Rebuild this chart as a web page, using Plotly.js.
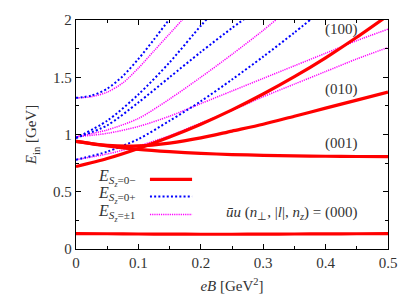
<!DOCTYPE html>
<html>
<head>
<meta charset="utf-8">
<script src="https://cdn.plot.ly/plotly-3.0.1.min.js"></script>
<style>html,body{margin:0;padding:0;background:#fff;}#chart{width:418px;height:300px;}</style>
</head>
<body>
<div id="chart"></div>
<script>
// eB values [GeV^2] and energies [GeV]
const ebFull = [0, 0.05, 0.1, 0.15, 0.2, 0.25, 0.3, 0.35, 0.4, 0.45, 0.5];
// S_z = 0- (red)
const red000 = [0.135, 0.133, 0.131, 0.13, 0.129, 0.129, 0.13, 0.131, 0.132, 0.133, 0.135];
const red001 = [0.94, 0.90, 0.87, 0.85, 0.835, 0.825, 0.818, 0.813, 0.81, 0.808, 0.807];
const red010 = [0.94, 0.905, 0.90, 0.925, 0.97, 1.03, 1.09, 1.16, 1.23, 1.30, 1.37];
const red100 = [0.72, 0.79, 0.878, 0.978, 1.09, 1.215, 1.354, 1.505, 1.67, 1.849, 2.04];
// S_z = 0+ (blue)
const ebB1 = [0, 0.025, 0.05, 0.075, 0.1, 0.125, 0.15];
const blue1 = [1.32, 1.34, 1.40, 1.51, 1.66, 1.83, 2.01];
const ebB2 = [0, 0.05, 0.1, 0.15, 0.2, 0.21];
const blue2 = [0.97, 1.12, 1.35, 1.63, 1.95, 2.01];
const ebB3 = [0, 0.05, 0.1, 0.15, 0.2, 0.25, 0.27];
const blue3 = [0.97, 1.08, 1.28, 1.50, 1.72, 1.93, 2.01];
const ebB4 = [0, 0.05, 0.1, 0.15, 0.2, 0.25, 0.3, 0.35, 0.375];
const blue4 = [0.78, 0.85, 0.96, 1.12, 1.29, 1.48, 1.68, 1.89, 2.0];
// S_z = ±1 (magenta)
const ebM1 = [0, 0.025, 0.05, 0.075, 0.1, 0.125, 0.15, 0.175];
const mag1 = [1.32, 1.33, 1.37, 1.45, 1.58, 1.73, 1.88, 2.03];
const ebM2 = [0, 0.05, 0.1, 0.15, 0.2, 0.25, 0.3, 0.32];
const mag2 = [0.98, 1.04, 1.14, 1.31, 1.50, 1.70, 1.91, 2.0];
const mag3 = [0.98, 1.01, 1.07, 1.16, 1.27, 1.38, 1.49, 1.60, 1.71, 1.82, 1.92];
const mag4 = [0.78, 0.83, 0.90, 0.99, 1.10, 1.21, 1.33, 1.44, 1.55, 1.66, 1.76];

const xTicks = [0, 0.1, 0.2, 0.3, 0.4, 0.5];
const xTickText = ['0', '0.1', '0.2', '0.3', '0.4', '0.5'];
const yTicks = [0, 0.5, 1, 1.5, 2];
const yTickText = ['0', '0.5', '1', '1.5', '2'];
const stateLabels = ['(100)', '(010)', '(001)'];
const stateLabelX = [0.425, 0.425, 0.425];
const stateLabelY = [1.92, 1.39, 0.925];

const RED = '#ff0000', BLUE = '#0000ff', MAG = '#ff00ff';
function tr(x, y, color, width, dash) {
  return {x: x, y: y, type: 'scatter', mode: 'lines',
    line: {color: color, width: width, dash: dash, shape: 'spline', smoothing: 0.8},
    showlegend: false, hoverinfo: 'skip', cliponaxis: true};
}
const MAGDASH = '1.2px,1px', BLUEDASH = '2px,2.2px';
const traces = [
  tr(ebM1, mag1, MAG, 1.5, MAGDASH),
  tr(ebM2, mag2, MAG, 1.5, MAGDASH),
  tr(ebFull, mag3, MAG, 1.5, MAGDASH),
  tr(ebFull, mag4, MAG, 1.5, MAGDASH),
  tr(ebB1, blue1, BLUE, 2, BLUEDASH),
  tr(ebB2, blue2, BLUE, 2, BLUEDASH),
  tr(ebB3, blue3, BLUE, 2, BLUEDASH),
  tr(ebB4, blue4, BLUE, 2, BLUEDASH),
  tr(ebFull, red000, RED, 3.2, 'solid'),
  tr(ebFull, red001, RED, 3.2, 'solid'),
  tr(ebFull, red010, RED, 3.2, 'solid'),
  tr(ebFull, red100, RED, 3.2, 'solid')
];

const FONT = 'Liberation Serif';
const TXT = '#333';
const annotations = stateLabels.map((t, i) => ({
  x: stateLabelX[i], y: stateLabelY[i], xref: 'x', yref: 'y', text: t,
  showarrow: false, font: {family: FONT, size: 15, color: TXT}
}));
const legendText = ['<i>E</i><sub><i>S<sub>z</sub></i>=0−</sub>',
                    '<i>E</i><sub><i>S<sub>z</sub></i>=0+</sub>',
                    '<i>E</i><sub><i>S<sub>z</sub></i>=±1</sub>'];
const legendColor = [RED, BLUE, MAG];
const legendWidth = [3.2, 2, 1.5];
const legendDash = ['solid', BLUEDASH, MAGDASH];
const legendRowY = [0.31, 0.235, 0.157];
const shapes = [];
legendText.forEach((t, i) => {
  annotations.push({x: 0.064, y: legendRowY[i], xref: 'paper', yref: 'paper', text: t,
    showarrow: false, xanchor: 'left', yanchor: 'middle',
    font: {family: FONT, size: 16, color: TXT}});
  shapes.push({type: 'line', xref: 'paper', yref: 'paper', x0: 0.237, x1: 0.372,
    y0: legendRowY[i] - 0.006, y1: legendRowY[i] - 0.006,
    line: {color: legendColor[i], width: legendWidth[i], dash: legendDash[i]}});
});
annotations.push({x: 0.91, y: legendRowY[2] + 0.002, xref: 'paper', yref: 'paper',
  text: '<i>ū</i><i>u</i> (<i>n</i><sub>⊥</sub>, |<i>l</i>|, <i>n<sub>z</sub></i>) = (000)',
  showarrow: false, xanchor: 'right', yanchor: 'middle',
  font: {family: FONT, size: 15, color: TXT}});

const axisCommon = {
  showline: true, linecolor: '#000', linewidth: 1.2, mirror: 'ticks',
  ticks: 'inside', ticklen: 5, tickcolor: '#000', tickwidth: 1,
  showgrid: false, zeroline: false,
  tickfont: {family: FONT, size: 15, color: TXT}
};
const layout = {
  width: 418, height: 300,
  margin: {l: 76, r: 30, t: 20, b: 51},
  paper_bgcolor: '#fff', plot_bgcolor: '#fff',
  font: {family: FONT, color: TXT},
  xaxis: Object.assign({}, axisCommon, {
    range: [0, 0.5], tickvals: xTicks, ticktext: xTickText,
    minor: {ticks: 'inside', ticklen: 3, dtick: 0.05, tick0: 0, tickcolor: '#000', showgrid: false},
    title: {text: '<i>eB</i> [GeV<sup>2</sup>]', font: {family: FONT, size: 15, color: TXT}, standoff: 10}
  }),
  yaxis: Object.assign({}, axisCommon, {
    range: [0, 2], tickvals: yTicks, ticktext: yTickText,
    minor: {ticks: 'inside', ticklen: 3, dtick: 0.25, tick0: 0, tickcolor: '#000', showgrid: false},
    title: {text: '<i>E</i><sub>in</sub> [GeV]', font: {family: FONT, size: 15, color: TXT}, standoff: 12}
  }),
  annotations: annotations,
  shapes: shapes
};
Plotly.newPlot('chart', traces, layout, {staticPlot: true, displayModeBar: false});
</script>
</body>
</html>
